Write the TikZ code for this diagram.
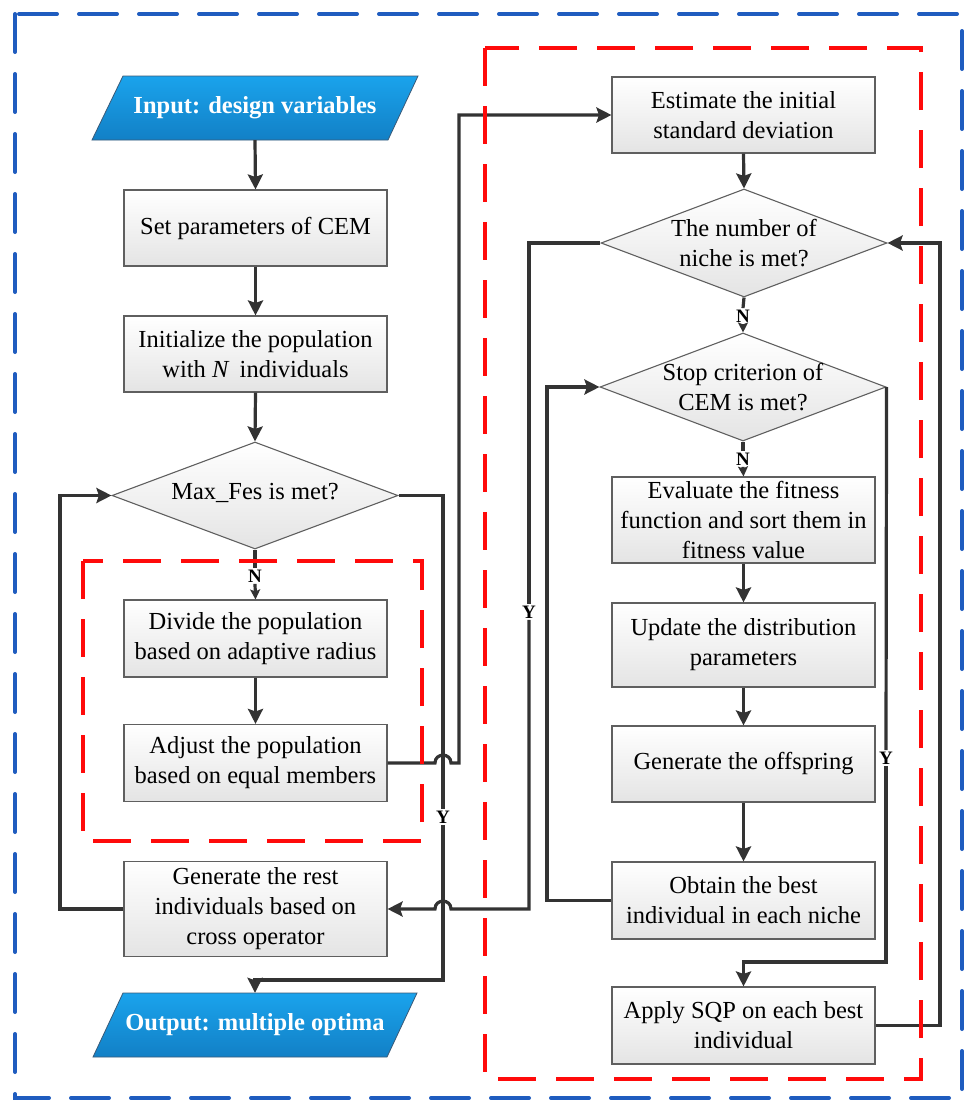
\documentclass[tikz,border=0pt]{standalone}
\usepackage{fontspec}
\setmainfont{Liberation Serif}
\usetikzlibrary{arrows.meta,shapes.geometric}
\definecolor{lineC}{HTML}{333333}
\definecolor{boxB}{HTML}{5F5F5F}
\definecolor{blueTop}{HTML}{1AA3EC}
\definecolor{blueBot}{HTML}{1280C6}
\definecolor{ioB}{HTML}{3A5A78}
\definecolor{frameBlue}{HTML}{1F5CBF}
\definecolor{frameRed}{HTML}{FF0A0A}
\definecolor{shadeBot}{HTML}{E4E4E4}
\begin{document}
\begin{tikzpicture}[x=1pt,y=-1pt,
  font=\fontsize{24.5}{30}\selectfont,
  proc/.style={rectangle, draw=boxB, line width=1.1pt, top color=white, bottom color=shadeBot,
    minimum width=263pt, inner sep=0pt, align=center, text=black},
  dec/.style={diamond, draw=boxB, line width=1.1pt, top color=white, bottom color=shadeBot,
    minimum width=286pt, minimum height=107pt, inner sep=0pt},
  dtext/.style={align=center, inner sep=0pt, text=black},
  iobody/.style={draw=ioB, line width=0.8pt, top color=blueTop, bottom color=blueBot},
  iotext/.style={rectangle, minimum width=296pt, minimum height=64pt, inner sep=0pt,
    text=white, font=\fontsize{24.5}{30}\selectfont\bfseries},
  lbl/.style={font=\fontsize{19}{22}\selectfont\bfseries, text=black, fill=white, inner sep=1.5pt},
  conn/.style={draw=lineC, line width=3.2pt},
  arr/.style={conn, -{Stealth[length=15pt,width=15pt,inset=2.5pt]}},
  sarr/.style={conn, -{Stealth[length=10pt,width=10pt,inset=2pt]}},
  redframe/.style={draw=frameRed, line width=3.5pt, dash pattern=on 38pt off 20pt},
  blueframe/.style={draw=frameBlue, line width=4pt, line cap=round, dash pattern=on 38pt off 22pt}
]
\useasboundingbox (0,0) rectangle (964,1100);

% ---------- left column ----------
\path[iobody] (92,140) -- (123,76) -- (418,76) -- (388,140) -- cycle;
\node[iotext] (in) at (255,108) {Input: design variables};

\node[proc, minimum height=76pt] (set) at (255.5,228) {Set parameters of CEM};
\node[proc, minimum height=76pt] (init) at (255.5,354) {Initialize the population\\with \textit{N}\, individuals};

\node[dec] (d1) at (255,495.5) {};
\node[dtext] (d1t) at (255,493) {Max\_Fes is met?};

\node[proc, minimum height=77pt] (div) at (255.5,638.5) {Divide the population\\based on adaptive radius};
\node[proc, minimum height=77pt] (adj) at (255.5,763) {Adjust the population\\based on equal members};
\node[proc, minimum height=95pt] (gen) at (255.5,909) {Generate the rest\\individuals based on\\cross operator};

\path[iobody] (93,1057) -- (123,993) -- (417,993) -- (387,1057) -- cycle;
\node[iotext] (out) at (255,1025) {Output: multiple optima};

% ---------- right column ----------
\node[proc, minimum height=76pt] (est) at (743.5,115) {Estimate the initial\\standard deviation};
\node[dec, minimum height=108pt] (d2) at (744,243) {};
\node[dtext] (d2t) at (744,243) {The number of\\niche is met?};
\node[dec, minimum height=108pt] (d3) at (743,387) {};
\node[dtext] (d3t) at (743,387) {Stop criterion of\\CEM is met?};
\node[proc, minimum height=86pt] (eval) at (743.5,520) {Evaluate the fitness\\function and sort them in\\fitness value};
\node[proc, minimum height=84pt] (upd) at (743.5,645) {Update the distribution\\parameters};
\node[proc, minimum height=76pt] (goff) at (743.5,764) {Generate the offspring};
\node[proc, minimum height=77pt] (obt) at (743.5,900.5) {Obtain the best\\individual in each niche};
\node[proc, minimum height=77pt] (sqp) at (743.5,1025.5) {Apply SQP on each best\\individual};

% ---------- labels ----------
\node[lbl] (n1) at (255,576) {N};
\node[lbl] (y1) at (443,817) {Y};
\node[lbl] (n2) at (743,316) {N};
\node[lbl] (n3) at (743,459) {N};
\node[lbl] (y2) at (529,612) {Y};
\node[lbl] (y3) at (886,758) {Y};

% ---------- connectors: left ----------
\draw[arr] (in.south) -- (set.north);
\draw[arr] (set.south) -- (init.north);
\draw[arr] (init.south) -- (d1.north);
\draw[conn] (d1.south) -- (n1.north);
\draw[sarr] (n1.south) -- (div.north);
\draw[arr] (div.south) -- (adj.north);
\draw[conn] (d1.east) -| (y1.north);
\draw[arr] (y1.south) -- (443,980) -| (out.north);
\draw[arr] (adj.east) -- (435,763) .. controls (435,752.5) and (451,752.5) .. (451,763)
  -- (459,763) -- (459,115) -- (est.west);
\draw[arr] (gen.west) -| (60,495.5) -- (d1.west);

% ---------- connectors: right ----------
\draw[arr] (est.south) -- (d2.north);
\draw[conn] (d2.south) -- (n2.north);
\draw[sarr] (n2.south) -- (d3.north);
\draw[conn] (d3.south) -- (n3.north);
\draw[sarr] (n3.south) -- (eval.north);
\draw[arr] (eval.south) -- (upd.north);
\draw[arr] (upd.south) -- (goff.north);
\draw[arr] (goff.south) -- (obt.north);
\draw[conn] (d2.west) -| (y2.north);
\draw[arr] (y2.south) -- (529,909) -- (451,909) .. controls (451,898.5) and (435,898.5) .. (435,909) -- (gen.east);
\draw[arr] (obt.west) -| (547,387) -- (d3.west);
\draw[conn] (d3.east) -- (y3.north);
\draw[arr] (y3.south) -- (886,962) -| (sqp.north);
\draw[arr] (sqp.east) -| (940,243) -- (d2.east);

% ---------- frames ----------
\draw[redframe] (83,561) rectangle (422,841);
\draw[redframe] (485,48) rectangle (921,1079);
\draw[blueframe] (15,14) rectangle (962,1098);
\end{tikzpicture}
\end{document}
